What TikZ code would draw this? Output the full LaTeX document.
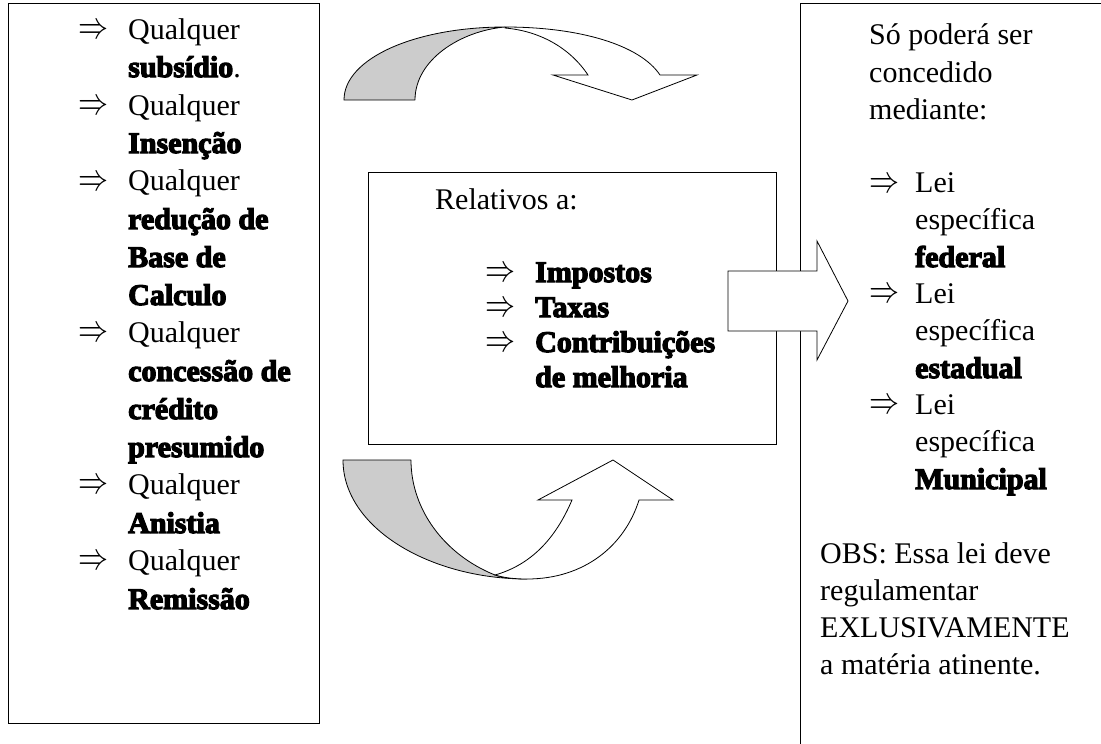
\documentclass[tikz,border=0pt]{standalone}
\usepackage{fontspec}
\setmainfont{Liberation Serif}[BoldFeatures={FakeBold=4}]
\newcommand{\arrsym}{\raisebox{1pt}{\resizebox{30pt}{14pt}{$\Rightarrow$}}}
\newcommand{\ra}{\makebox[50pt][l]{\arrsym}}
\newcommand{\ind}{\hspace*{50pt}}
\newcommand{\rb}{\makebox[46pt][l]{\arrsym}}
\newcommand{\indb}{\hspace*{46pt}}
\tikzset{
  frame/.style={draw=black, line width=1pt},
  txt/.style={anchor=base west, inner sep=0pt},
  backside/.style={fill=black!20, draw=black, line width=0.8pt, line join=round},
  frontside/.style={fill=white, draw=black, line width=0.8pt, line join=miter},
}
\begin{document}
\begin{tikzpicture}[x=1pt,y=-1pt]
\path[use as bounding box] (0,0) rectangle (1101,744);
% boxes
\draw[frame] (8,3) rectangle (319,723);
\draw[frame] (368,172) rectangle (776,444);
\draw[frame] (1101,3) -- (800,3) -- (800,744);
% block arrow
\draw[frontside] (728,271) -- (817,271) -- (817,241) -- (848,301) -- (817,360) -- (817,331) -- (728,331) -- cycle;
% top curved arrow
\draw[backside] (344,100) .. controls (344,58) and (416,27) .. (505,27)
  .. controls (460,31) and (415,60) .. (415,100) -- cycle;
\draw[frontside] (505,27) .. controls (580,27) and (640,45) .. (660,75)
  -- (697,75) -- (632,100) -- (553,75) -- (588,75)
  .. controls (570,48) and (540,31) .. (505,28) -- cycle;
% bottom curved arrow
\draw[backside] (343,460) .. controls (343,528) and (430,579) .. (527,579)
  .. controls (515,579) and (505,578) .. (495,575)
  .. controls (445,555) and (411,510) .. (411,460) -- cycle;
\draw[frontside] (527,579) .. controls (585,579) and (625,545) .. (639,500)
  -- (673,500) -- (613,460) -- (538,500) -- (572,500)
  .. controls (555,540) and (530,565) .. (495,575)
  .. controls (505,578) and (515,579) .. (527,579) -- cycle;
% left text
\node[txt] (lefttext) at (78,39) {\parbox[t]{300pt}{\raggedright\fontsize{30}{38}\selectfont
\ra Qualquer\\
\ind\textbf{subsídio}.\\
\ra Qualquer\\
\ind\textbf{Insenção}\\
\ra Qualquer\\
\ind\textbf{redução de}\\
\ind\textbf{Base de}\\
\ind\textbf{Calculo}\\
\ra Qualquer\\
\ind\textbf{concessão de}\\
\ind\textbf{crédito}\\
\ind\textbf{presumido}\\
\ra Qualquer\\
\ind\textbf{Anistia}\\
\ra Qualquer\\
\ind\textbf{Remissão}}};
% center text
\node[txt] (reltitle) at (435,209) {\fontsize{30}{36}\selectfont Relativos a:};
\node[txt] (rellist) at (485,282) {\parbox[t]{300pt}{\raggedright\fontsize{30}{35}\selectfont
\ra\textbf{Impostos}\\
\ra\textbf{Taxas}\\
\ra\textbf{Contribuições}\\
\ind\textbf{de melhoria}}};
% right text
\node[txt] (righttext) at (869,45) {\parbox[t]{300pt}{\raggedright\fontsize{30}{37}\selectfont
Só poderá ser\\
concedido\\
mediante:\\
\mbox{}\\
\rb Lei\\
\indb específica\\
\indb\textbf{federal}\\
\rb Lei\\
\indb específica\\
\indb\textbf{estadual}\\
\rb Lei\\
\indb específica\\
\indb\textbf{Municipal}}};
\node[txt] (obstext) at (820,563) {\parbox[t]{300pt}{\raggedright\fontsize{30}{37}\selectfont
OBS: Essa lei deve\\
regulamentar\\
EXLUSIVAMENTE\\
a matéria atinente.}};
\end{tikzpicture}
\end{document}
